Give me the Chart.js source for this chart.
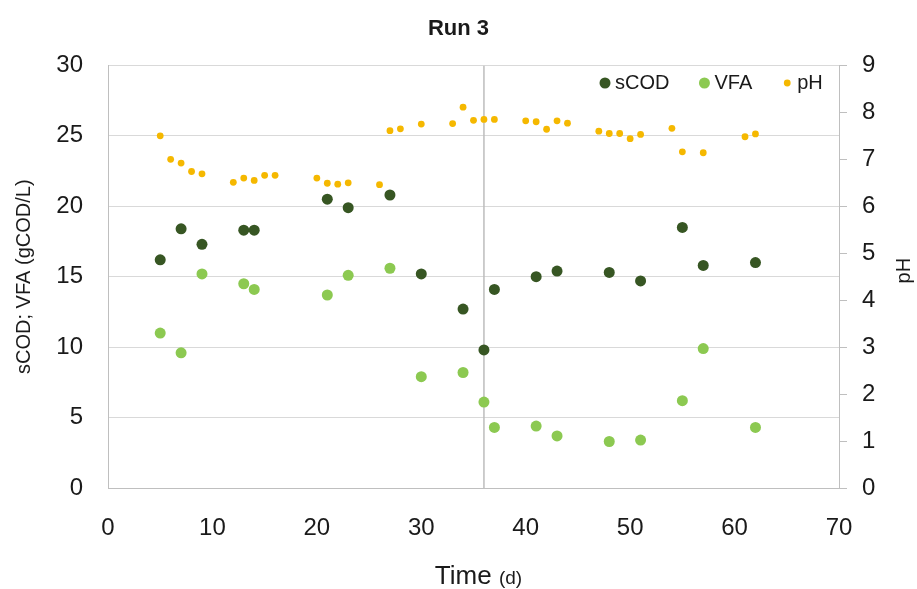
<!DOCTYPE html>
<html>
<head>
<meta charset="utf-8">
<title>Run 3</title>
<script src="https://cdn.jsdelivr.net/npm/chart.js@4.4.0/dist/chart.umd.min.js"></script>
<style>
  html, body { margin: 0; padding: 0; background: #fff; }
</style>
</head>
<body>
<canvas id="runChart" width="917" height="589"></canvas>
<script>
// sampling days for sCOD / VFA
const days = [5, 7, 9, 13, 14, 21, 23, 27, 30, 34, 36, 37, 41, 43, 48, 51, 55, 57, 62];
const scod = [16.2, 18.4, 17.3, 18.3, 18.3, 20.5, 19.9, 20.8, 15.2, 12.7, 9.8, 14.1, 15.0, 15.4, 15.3, 14.7, 18.5, 15.8, 16.0];
const vfa = [11.0, 9.6, 15.2, 14.5, 14.1, 13.7, 15.1, 15.6, 7.9, 8.2, 6.1, 4.3, 4.4, 3.7, 3.3, 3.4, 6.2, 9.9, 4.3];

// pH was logged more often
const phDays = [5, 6, 7, 8, 9, 12, 13, 14, 15, 16, 20, 21, 22, 23, 26, 27, 28, 30, 33, 34, 35, 36, 37, 40, 41, 42, 43, 44, 47, 48, 49, 50, 51, 54, 55, 57, 61, 62];
const ph = [7.50, 7.00, 6.92, 6.74, 6.69, 6.51, 6.60, 6.55, 6.66, 6.66, 6.60, 6.49, 6.47, 6.50, 6.46, 7.61, 7.65, 7.75, 7.76, 8.11, 7.83, 7.85, 7.85, 7.82, 7.80, 7.64, 7.82, 7.77, 7.60, 7.55, 7.55, 7.44, 7.53, 7.66, 7.16, 7.14, 7.48, 7.54];

// vertical marker line
const markerDay = 36;
const markerRange = [0, 30];

const FONT = '"Liberation Sans", Arial, sans-serif';
const TEXT = '#1a1a1a';

function toPoints(xs, ys) {
  return xs.map((x, i) => ({ x, y: ys[i] }));
}

// legend inside the plot + axis titles that chart.js can't do as-is
const decorPlugin = {
  id: 'decor',
  afterDraw(chart) {
    const { ctx, chartArea } = chart;
    ctx.save();

    // legend
    ctx.font = '20px ' + FONT;
    ctx.textBaseline = 'middle';
    ctx.textAlign = 'left';
    let x = 605;
    const y = 83;
    chart.data.datasets.forEach(ds => {
      if (!ds.label) return;
      ctx.beginPath();
      ctx.fillStyle = ds.backgroundColor;
      ctx.arc(x, y, ds.pointRadius, 0, Math.PI * 2);
      ctx.fill();
      ctx.fillStyle = TEXT;
      ctx.fillText(ds.label, x + 10, y);
      x += 10 + ctx.measureText(ds.label).width + 35;
    });

    // x title with smaller unit
    ctx.textBaseline = 'alphabetic';
    ctx.font = '26px ' + FONT;
    const main = 'Time ';
    const wMain = ctx.measureText(main).width;
    ctx.font = '19px ' + FONT;
    const unit = '(d)';
    const wUnit = ctx.measureText(unit).width;
    const cx = (chartArea.left + chartArea.right) / 2 + 5;
    let tx = cx - (wMain + wUnit) / 2;
    ctx.fillStyle = TEXT;
    ctx.font = '26px ' + FONT;
    ctx.fillText(main, tx, 584);
    ctx.font = '19px ' + FONT;
    ctx.fillText(unit, tx + wMain, 584);

    // right title, reading bottom to top
    ctx.translate(904, (chartArea.top + chartArea.bottom) / 2 - 6);
    ctx.rotate(-Math.PI / 2);
    ctx.textAlign = 'center';
    ctx.textBaseline = 'middle';
    ctx.font = '20px ' + FONT;
    ctx.fillText('pH', 0, 0);

    ctx.restore();
  }
};

new Chart(document.getElementById('runChart'), {
  type: 'scatter',
  data: {
    datasets: [
      {
        label: 'sCOD',
        data: toPoints(days, scod),
        backgroundColor: '#375623',
        borderColor: '#375623',
        pointRadius: 5.5,
        yAxisID: 'y',
        order: 2
      },
      {
        label: 'VFA',
        data: toPoints(days, vfa),
        backgroundColor: '#8cc951',
        borderColor: '#8cc951',
        pointRadius: 5.5,
        yAxisID: 'y',
        order: 3
      },
      {
        label: 'pH',
        data: toPoints(phDays, ph),
        backgroundColor: '#f5b800',
        borderColor: '#f5b800',
        pointRadius: 3.4,
        yAxisID: 'y2',
        order: 1
      },
      {
        type: 'line',
        label: '',
        data: markerRange.map(v => ({ x: markerDay, y: v })),
        borderColor: '#bdbdbd',
        borderWidth: 1.5,
        pointRadius: 0,
        yAxisID: 'y',
        order: 10
      }
    ]
  },
  options: {
    responsive: false,
    animation: false,
    events: [],
    layout: { padding: 0 },
    elements: { point: { borderWidth: 0 } },
    plugins: {
      legend: { display: false },
      tooltip: { enabled: false },
      title: {
        display: true,
        text: 'Run 3',
        color: TEXT,
        font: { family: FONT, size: 22, weight: 'bold' },
        padding: { top: 16, bottom: 23 }
      }
    },
    scales: {
      x: {
        type: 'linear',
        min: 0,
        max: 70,
        ticks: { stepSize: 10, color: TEXT, font: { family: FONT, size: 24 }, padding: 18 },
        grid: { display: false },
        border: { display: true, color: '#bfbfbf' },
        afterFit: s => { s.height = 101; }
      },
      y: {
        position: 'left',
        min: 0,
        max: 30,
        ticks: { stepSize: 5, color: TEXT, font: { family: FONT, size: 24 }, padding: 25 },
        grid: { color: '#d9d9d9', drawTicks: false },
        border: { display: true, color: '#bfbfbf' },
        title: {
          display: true,
          text: 'sCOD; VFA (gCOD/L)',
          color: TEXT,
          font: { family: FONT, size: 20 },
          padding: { top: 12 }
        },
        afterFit: s => { s.width = 108; }
      },
      y2: {
        position: 'right',
        min: 0,
        max: 9,
        ticks: { stepSize: 1, color: TEXT, font: { family: FONT, size: 24 }, padding: 15 },
        grid: { drawOnChartArea: false, drawTicks: true, tickLength: 8, color: '#bfbfbf' },
        border: { display: true, color: '#bfbfbf' },
        afterFit: s => { s.width = 78; }
      }
    }
  },
  plugins: [decorPlugin]
});
</script>
</body>
</html>
